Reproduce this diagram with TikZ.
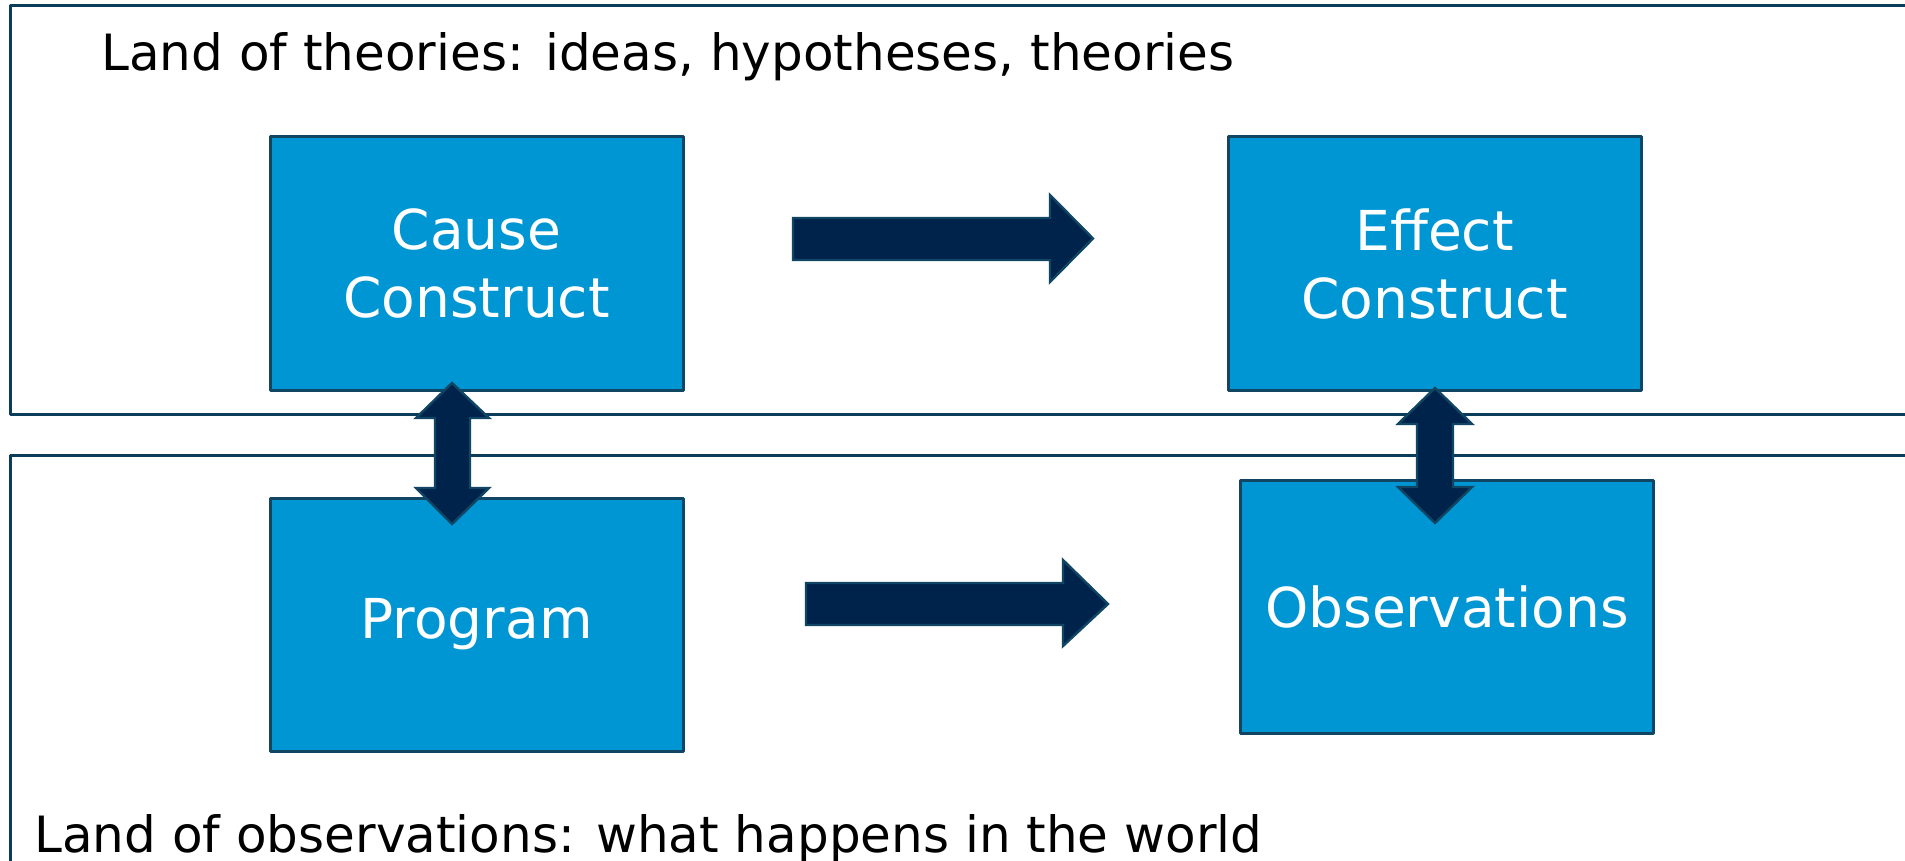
\documentclass[tikz,border=0pt]{standalone}
\usepackage{fontspec}
\setmainfont{DejaVu Sans}
\definecolor{boxblue}{HTML}{0096D3}
\definecolor{boxline}{HTML}{104563}
\definecolor{arrownavy}{HTML}{00234C}
\definecolor{frameline}{HTML}{0B3D5B}
\tikzset{
  construct/.style={draw=boxline, line width=1.5pt, fill=boxblue, text=white,
    minimum width=206.5pt, minimum height=126.5pt, inner sep=0pt, align=center,
    font=\fontsize{27.5}{34}\selectfont},
  blockarrow/.style={draw=boxline, line width=1.2pt, fill=arrownavy, line join=miter},
  land/.style={anchor=base west, inner sep=0pt, font=\fontsize{25}{30}\selectfont},
  frame/.style={draw=frameline, line width=1.5pt},
}
\begin{document}
\begin{tikzpicture}[x=0.5pt, y=-0.5pt, line join=round]
\useasboundingbox (0,0) rectangle (1905,861);
% two lands
\draw[frame] (1910,6) -- (10,6) -- (10,414) -- (1910,414);
\draw[frame] (1910,455) -- (10,455) -- (10,870);
\node[land] (theories) at (101,71) {Land of theories: ideas, hypotheses, theories};
\node[land] (world) at (34,852) {Land of observations: what happens in the world};
% constructs and what is seen
\node[construct] (cause) at (476.5,263.5) {Cause\\Construct};
\node[construct] (effect) at (1434.5,263.5) {Effect\\Construct};
\node[construct] (program) at (476.5,624.5) {Program};
\node[construct] (obs) at (1447,606.5) {Observations};
% block arrows
\draw[blockarrow] (793,218) -- (1050,218) -- (1050,195) -- (1093,238.5) -- (1050,282) -- (1050,260) -- (793,260) -- cycle;
\draw[blockarrow] (806,583) -- (1063,583) -- (1063,560) -- (1108,604) -- (1063,646) -- (1063,625) -- (806,625) -- cycle;
\draw[blockarrow] (452,383) -- (489,418) -- (470,418) -- (470,488) -- (489,488) -- (452,524) -- (416,488) -- (435,488) -- (435,418) -- (416,418) -- cycle;
\draw[blockarrow] (1435,388) -- (1472,424) -- (1453,424) -- (1453,487) -- (1472,487) -- (1435,523) -- (1398,487) -- (1417,487) -- (1417,424) -- (1398,424) -- cycle;
\end{tikzpicture}
\end{document}
